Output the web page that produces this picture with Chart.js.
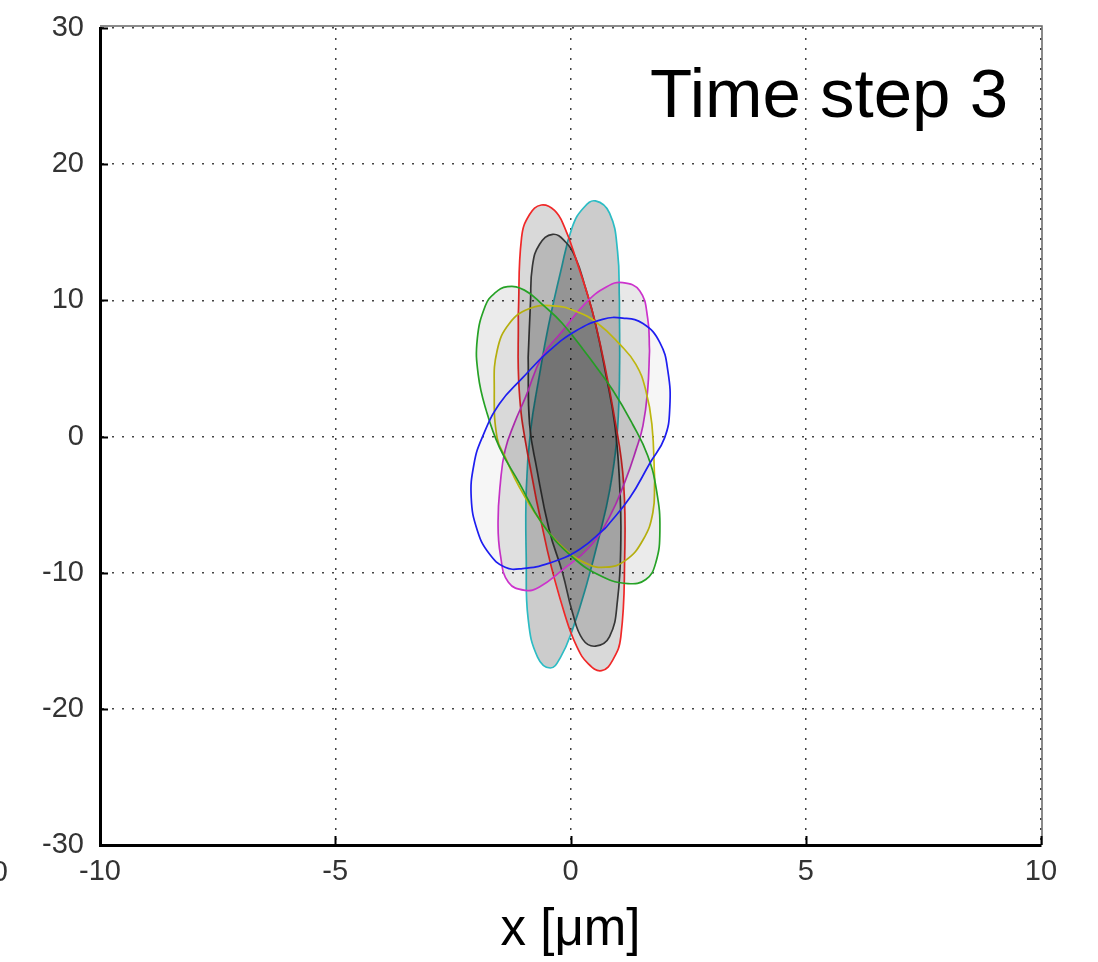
<!DOCTYPE html>
<html>
<head>
<meta charset="utf-8">
<script src="https://cdn.jsdelivr.net/npm/chart.js@4.4.0/dist/chart.umd.min.js"></script>
<style>
  html, body { margin: 0; padding: 0; background: #fff; }
</style>
</head>
<body>
<canvas id="ellipseChart" width="1098" height="962"></canvas>
<script>
const xTicks = [-10, -5, 0, 5, 10];
const yTicks = [-30, -20, -10, 0, 10, 20, 30];
const xLabel = 'x [μm]';
const stepLabel = 'Time step 3';

// outlines, [x, y], going round clockwise
const redOutline = [
    [-1.11, 8.9], [-1.04, 14.6], [-0.87, 16.3], [-0.62, 17.0], [-0.34, 16.6], [-0.13, 15.4],
    [0.11, 13.1], [0.53, 8.3], [0.96, 0.9], [1.13, -3.5], [1.15, -9.1], [1.07, -14.7],
    [0.90, -16.4], [0.66, -17.2], [0.38, -16.7], [0.13, -15.4], [-0.11, -13.2], [-0.49, -8.4],
    [-0.92, -1.1], [-1.09, 3.4]
];
const cyanOutline = [
    [1.04, 9.9], [1.04, 4.1], [0.98, -0.3], [0.83, -4.0], [0.62, -7.2], [0.34, -10.9],
    [0.04, -14.2], [-0.21, -16.2], [-0.43, -17.0], [-0.70, -16.2], [-0.90, -13.4], [-0.94, -9.1],
    [-0.94, -3.9], [-0.85, 0.4], [-0.66, 4.5], [-0.47, 8.1], [-0.21, 12.1], [0.04, 15.4],
    [0.28, 16.8], [0.53, 17.3], [0.83, 16.4], [1.0, 13.6]
];
const blackOutline = [
    [-0.90, 5.8], [-0.85, 9.9], [-0.81, 12.5], [-0.66, 14.1], [-0.38, 14.85], [-0.11, 14.3],
    [0.11, 13.1], [0.32, 10.9], [0.53, 8.3], [0.75, 4.6], [0.94, 0.9], [1.04, -3.2],
    [1.07, -7.6], [1.0, -12.0], [0.83, -14.7], [0.53, -15.4], [0.26, -14.9], [0.04, -12.9],
    [-0.17, -10.0], [-0.45, -6.9], [-0.72, -2.3], [-0.87, 0.9]
];
const greenOutline = [
    [0.40, 5.8], [0.90, 3.4], [1.32, 0.9], [1.64, -1.4], [1.83, -4.0], [1.90, -6.9],
    [1.81, -9.3], [1.60, -10.5], [1.22, -10.8], [0.68, -10.3], [0.04, -8.85], [-0.60, -6.4],
    [-1.09, -3.4], [-1.51, -0.8], [-1.79, 1.9], [-1.96, 4.5], [-1.98, 7.2], [-1.81, 9.6],
    [-1.62, 10.5], [-1.34, 11.0], [-0.98, 10.75], [-0.60, 9.7], [-0.17, 8.3]
];
const yellowOutline = [
    [1.79, -3.2], [1.75, -5.6], [1.54, -7.6], [1.17, -9.1], [0.75, -9.6], [0.32, -9.3],
    [-0.17, -8.1], [-0.66, -6.1], [-1.09, -3.7], [-1.39, -1.5], [-1.56, -0.1], [-1.62, 3.4],
    [-1.56, 6.3], [-1.30, 8.3], [-0.87, 9.4], [-0.38, 9.6], [0.11, 9.2], [0.58, 8.3],
    [1.04, 6.8], [1.39, 5.3], [1.60, 3.4], [1.73, 0.9]
];
const magentaOutline = [
    [1.68, 6.3], [1.64, 3.4], [1.54, 0.8], [1.39, -1.0], [1.17, -3.2], [0.83, -5.9],
    [0.41, -8.1], [-0.17, -9.8], [-0.66, -11.05], [-0.96, -11.3], [-1.32, -10.7], [-1.49, -8.7],
    [-1.54, -6.3], [-1.49, -3.4], [-1.39, -1.0], [-1.19, 1.0], [-0.96, 2.85], [-0.60, 5.9],
    [-0.17, 7.75], [0.32, 9.8], [0.77, 11.0], [1.11, 11.3], [1.47, 10.7], [1.64, 8.7]
];
const blueOutline = [
    [0.75, -6.7], [0.19, -8.3], [-0.45, -9.3], [-1.02, -9.7], [-1.39, -9.6], [-1.73, -8.6],
    [-1.98, -6.9], [-2.11, -4.5], [-2.05, -2.0], [-1.88, -0.1], [-1.51, 2.4], [-1.02, 4.3],
    [-0.45, 6.3], [0.11, 7.75], [0.68, 8.6], [1.11, 8.7], [1.54, 8.3], [1.90, 6.9],
    [2.07, 4.8], [2.11, 2.1], [2.0, -0.1], [1.68, -2.0], [1.26, -4.5]
];

const tickFont = { family: '"Liberation Sans", Arial, sans-serif', size: 29 };

// closed outline: repeat first point so the stroke goes all the way round
function outline(label, pts, color, shade) {
    return {
        label: label,
        data: pts.concat([pts[0]]).map(p => ({ x: p[0], y: p[1] })),
        borderColor: color,
        borderWidth: 1.7,
        backgroundColor: 'rgba(0,0,0,' + shade + ')',
        fill: 'shape',
        tension: 0.45,
        pointRadius: 0,
        pointHoverRadius: 0
    };
}

const frame = {
    id: 'frame',
    afterDraw(chart) {
        const ctx = chart.ctx;
        const a = chart.chartArea;
        const xs = chart.scales.x, ys = chart.scales.y;
        ctx.save();
        // thin top / right edges
        ctx.strokeStyle = '#666';
        ctx.lineWidth = 1.5;
        ctx.beginPath();
        ctx.moveTo(a.left, a.top - 2);
        ctx.lineTo(a.right + 1, a.top - 2);
        ctx.lineTo(a.right + 1, a.bottom);
        ctx.stroke();
        // inward major ticks
        ctx.strokeStyle = '#000';
        ctx.lineWidth = 2;
        ctx.beginPath();
        yTicks.forEach(v => {
            const py = Math.round(ys.getPixelForValue(v)) + 0.5;
            ctx.moveTo(a.left, py);
            ctx.lineTo(a.left + 8, py);
        });
        xTicks.forEach(v => {
            const px = Math.round(xs.getPixelForValue(v)) + 0.5;
            ctx.moveTo(px, a.bottom);
            ctx.lineTo(px, a.bottom - 9);
        });
        ctx.stroke();
        // step caption
        ctx.fillStyle = '#000';
        ctx.font = '69px "Liberation Sans", Arial, sans-serif';
        ctx.textAlign = 'right';
        ctx.textBaseline = 'alphabetic';
        ctx.fillText(stepLabel, 1008, 117);
        // clipped label of the neighbouring panel
        ctx.fillStyle = '#333';
        ctx.font = '29px "Liberation Sans", Arial, sans-serif';
        ctx.textBaseline = 'middle';
        ctx.fillText('10', 8, 873);
        ctx.restore();
    }
};

const ctx = document.getElementById('ellipseChart').getContext('2d');
const chart = new Chart(ctx, {
    type: 'line',
    data: {
        datasets: [
            outline('blue', blueOutline, '#1e1ef0', 0.035),
            outline('green', greenOutline, '#26a226', 0.08),
            outline('yellow', yellowOutline, '#c4bd10', 0.05),
            outline('magenta', magentaOutline, '#cc33cc', 0.09),
            outline('red', redOutline, '#f02828', 0.15),
            outline('black', blackOutline, '#404040', 0.15),
            outline('cyan', cyanOutline, '#2cbcc4', 0.2)
        ]
    },
    options: {
        responsive: false,
        animation: false,
        devicePixelRatio: 1,
        layout: { padding: { top: 28, right: 57, left: 0, bottom: 0 } },
        plugins: {
            legend: { display: false },
            tooltip: { enabled: false }
        },
        scales: {
            x: {
                type: 'linear',
                min: -10,
                max: 10,
                afterBuildTicks: s => { s.ticks = xTicks.map(v => ({ value: v })); },
                afterFit: s => { s.height = 117; },
                ticks: { color: '#333', font: tickFont, padding: 10, maxRotation: 0, autoSkip: false },
                grid: { color: '#444', lineWidth: 1.5, drawTicks: false },
                border: { display: true, color: '#000', width: 3, dash: [2, 8] },
                title: {
                    display: true,
                    text: xLabel,
                    color: '#000',
                    font: { family: '"Liberation Sans", Arial, sans-serif', size: 51, lineHeight: 1 },
                    padding: { top: 0, bottom: 6 }
                }
            },
            y: {
                type: 'linear',
                min: -30,
                max: 30,
                afterBuildTicks: s => { s.ticks = yTicks.map(v => ({ value: v })); },
                afterFit: s => { s.width = 100; s.paddingTop = 0; s.paddingBottom = 0; },
                ticks: { color: '#333', font: tickFont, padding: 16, autoSkip: false },
                grid: { color: '#444', lineWidth: 1.5, drawTicks: false },
                border: { display: true, color: '#000', width: 3, dash: [2, 8] }
            }
        }
    },
    plugins: [frame]
});
</script>
</body>
</html>
